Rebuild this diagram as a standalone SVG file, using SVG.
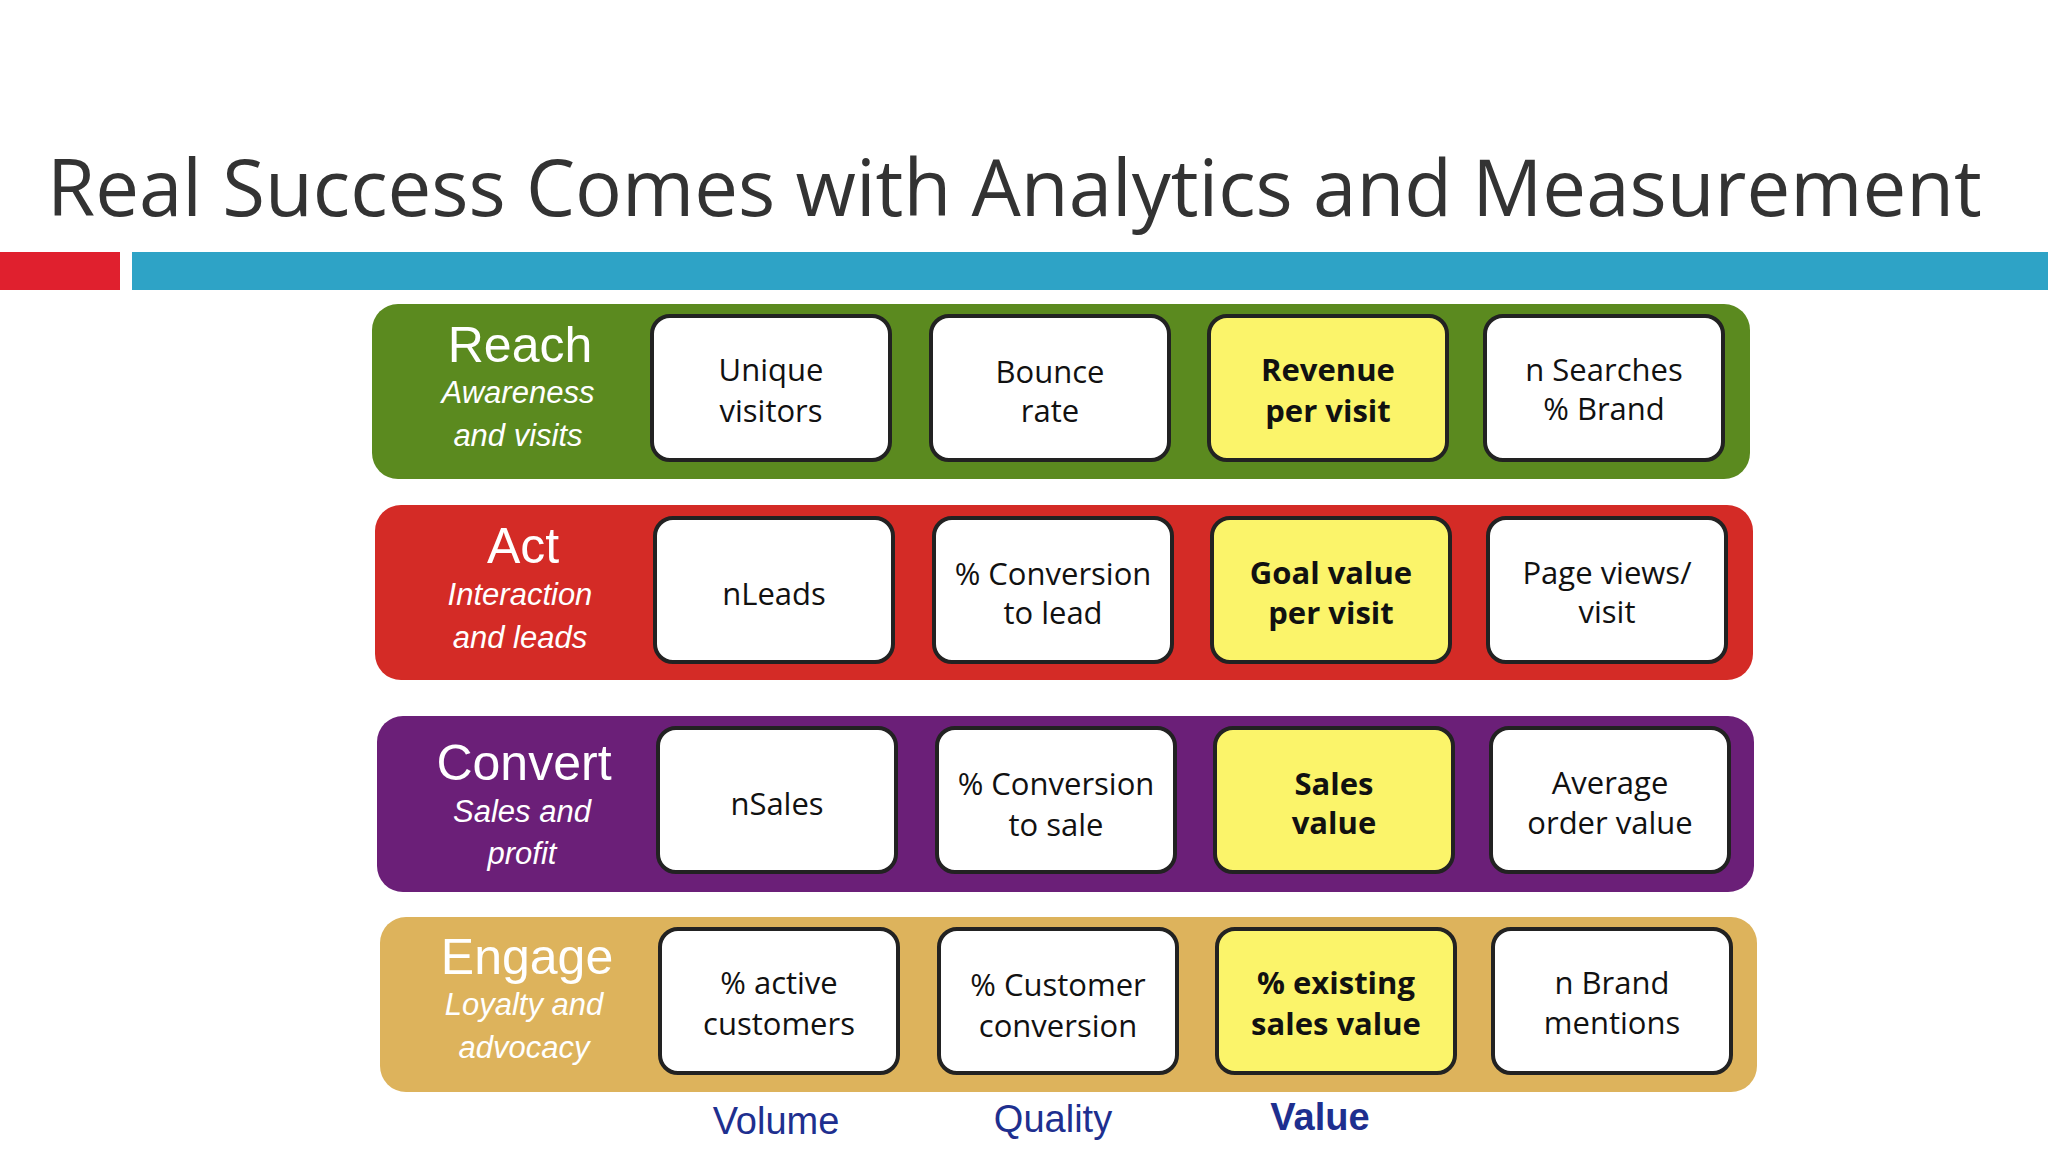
<svg xmlns="http://www.w3.org/2000/svg" width="2048" height="1152" viewBox="0 0 2048 1152">
<style>
.row{stroke:none}
.box{fill:#fff;stroke:#222;stroke-width:4}
.hl{fill:#fbf46a;stroke:#222;stroke-width:4}
.bt{font-family:"Open Sans","Liberation Sans",sans-serif;font-size:31px;fill:#111;text-anchor:middle}
.bb{font-weight:bold}
.h{font-family:"Liberation Sans",Arial,sans-serif;font-size:50px;fill:#fff;text-anchor:middle}
.s{font-family:"Liberation Sans",Arial,sans-serif;font-size:31px;fill:#fff;font-style:italic;text-anchor:middle}
.ax{font-family:"Liberation Sans",Arial,sans-serif;font-size:38px;fill:#1e2f8f;text-anchor:middle}
</style>
<rect width="2048" height="1152" fill="#fff"/>
<text x="47" y="216" font-family="Open Sans, Liberation Sans, sans-serif" font-size="78" fill="#333">Real Success Comes with Analytics and Measurement</text>
<rect x="0" y="252" width="120" height="38" fill="#e0202e"/>
<rect x="132" y="252" width="1916" height="38" fill="#2ea3c6"/>
<g id="reach">
<rect class="row" x="372" y="304" width="1378" height="175" rx="26" fill="#5b8a1f"/>
<text class="h" x="520" y="362">Reach</text>
<text class="s" x="518" y="403">Awareness</text><text class="s" x="518" y="446">and visits</text>
<rect class="box" x="652" y="316" width="238" height="144" rx="18"/>
<text class="bt" x="771" y="381">Unique</text><text class="bt" x="771" y="422">visitors</text>
<rect class="box" x="931" y="316" width="238" height="144" rx="18"/>
<text class="bt" x="1050" y="383">Bounce</text><text class="bt" x="1050" y="422">rate</text>
<rect class="hl" x="1209" y="316" width="238" height="144" rx="18"/>
<text class="bt bb" x="1328" y="381">Revenue</text><text class="bt bb" x="1328" y="422">per visit</text>
<rect class="box" x="1485" y="316" width="238" height="144" rx="18"/>
<text class="bt" x="1604" y="381">n Searches</text><text class="bt" x="1604" y="420">% Brand</text>
</g>
<g id="act">
<rect class="row" x="375" y="505" width="1378" height="175" rx="26" fill="#d42b26"/>
<text class="h" x="523" y="563">Act</text>
<text class="s" x="520" y="605">Interaction</text><text class="s" x="520" y="648">and leads</text>
<rect class="box" x="655" y="518" width="238" height="144" rx="18"/>
<text class="bt" x="774" y="605">nLeads</text>
<rect class="box" x="934" y="518" width="238" height="144" rx="18"/>
<text class="bt" x="1053" y="585">% Conversion</text><text class="bt" x="1053" y="624">to lead</text>
<rect class="hl" x="1212" y="518" width="238" height="144" rx="18"/>
<text class="bt bb" x="1331" y="584">Goal value</text><text class="bt bb" x="1331" y="624">per visit</text>
<rect class="box" x="1488" y="518" width="238" height="144" rx="18"/>
<text class="bt" x="1607" y="584">Page views/</text><text class="bt" x="1607" y="623">visit</text>
</g>
<g id="convert">
<rect class="row" x="377" y="716" width="1377" height="176" rx="26" fill="#6b1f78"/>
<text class="h" x="524" y="780">Convert</text>
<text class="s" x="522" y="822">Sales and</text><text class="s" x="522" y="864">profit</text>
<rect class="box" x="658" y="728" width="238" height="144" rx="18"/>
<text class="bt" x="777" y="815">nSales</text>
<rect class="box" x="937" y="728" width="238" height="144" rx="18"/>
<text class="bt" x="1056" y="795">% Conversion</text><text class="bt" x="1056" y="836">to sale</text>
<rect class="hl" x="1215" y="728" width="238" height="144" rx="18"/>
<text class="bt bb" x="1334" y="795">Sales</text><text class="bt bb" x="1334" y="834">value</text>
<rect class="box" x="1491" y="728" width="238" height="144" rx="18"/>
<text class="bt" x="1610" y="794">Average</text><text class="bt" x="1610" y="834">order value</text>
</g>
<g id="engage">
<rect class="row" x="380" y="917" width="1377" height="175" rx="26" fill="#ddb35c"/>
<text class="h" x="527" y="974">Engage</text>
<text class="s" x="524" y="1015">Loyalty and</text><text class="s" x="524" y="1058">advocacy</text>
<rect class="box" x="660" y="929" width="238" height="144" rx="18"/>
<text class="bt" x="779" y="994">% active</text><text class="bt" x="779" y="1035">customers</text>
<rect class="box" x="939" y="929" width="238" height="144" rx="18"/>
<text class="bt" x="1058" y="996">% Customer</text><text class="bt" x="1058" y="1037">conversion</text>
<rect class="hl" x="1217" y="929" width="238" height="144" rx="18"/>
<text class="bt bb" x="1336" y="994">% existing</text><text class="bt bb" x="1336" y="1035">sales value</text>
<rect class="box" x="1493" y="929" width="238" height="144" rx="18"/>
<text class="bt" x="1612" y="994">n Brand</text><text class="bt" x="1612" y="1034">mentions</text>
</g>
<g id="axis">
<text class="ax" x="776" y="1134">Volume</text>
<text class="ax" x="1053" y="1132">Quality</text>
<text class="ax" x="1320" y="1130" font-weight="bold">Value</text>
</g>
<g id="connectors"/>
</svg>
